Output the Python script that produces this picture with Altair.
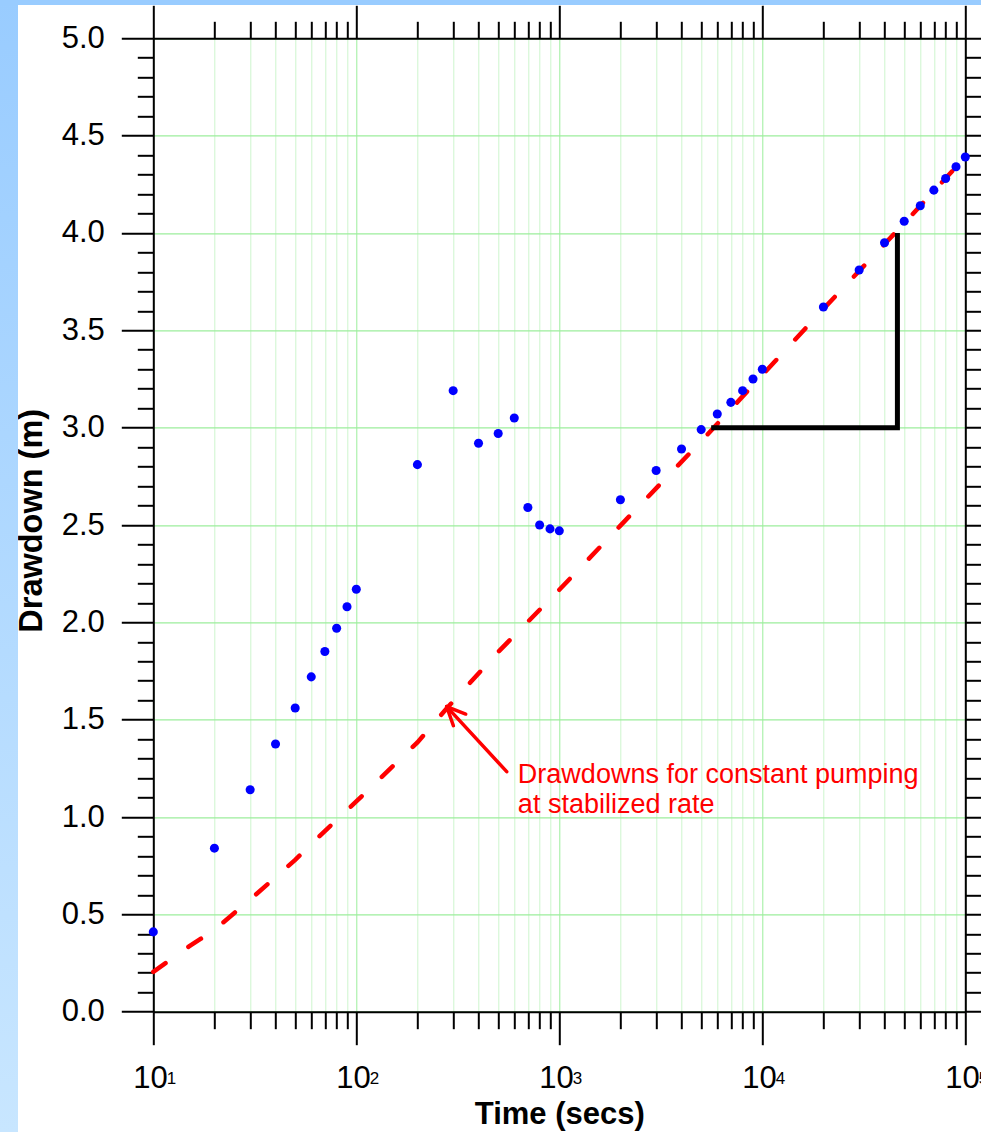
import altair as alt
import pandas as pd

# ---- data ----
obs_time = [10, 20, 30, 40, 50, 60, 70, 80, 90, 100,
            200, 300, 400, 500, 600, 700, 800, 900, 1000,
            2000, 3000, 4000, 5000, 6000, 7000, 8000, 9000, 10000,
            20000, 30000, 40000, 50000, 60000, 70000, 80000, 90000, 100000]
obs_drawdown = [0.41, 0.84, 1.14, 1.375, 1.56, 1.72, 1.85, 1.97, 2.08, 2.17,
                2.81, 3.19, 2.92, 2.97, 3.05, 2.59, 2.50, 2.48, 2.47,
                2.63, 2.78, 2.89, 2.99, 3.07, 3.13, 3.19, 3.25, 3.30,
                3.62, 3.81, 3.95, 4.06, 4.14, 4.22, 4.28, 4.34, 4.39]

theory_time = [10, 15, 20, 30, 50, 70, 100, 200, 280, 500, 1000, 2000, 5000,
               10000, 20000, 50000, 100000]
theory_drawdown = [0.205, 0.335, 0.42, 0.576, 0.78, 0.928, 1.08, 1.383, 1.56,
                   1.848, 2.167, 2.497, 2.93, 3.27, 3.61, 4.05, 4.39]

slope_time = [5600, 46300, 46300]
slope_drawdown = [3.0, 3.0, 4.0]

arrow_t1 = [550.7, 278.8, 278.8]
arrow_s1 = [1.233, 1.567, 1.567]
arrow_t2 = [278.8, 346.0, 300.8]
arrow_s2 = [1.567, 1.529, 1.469]

note_lines = ["Drawdowns for constant pumping", "at stabilized rate"]
note_time = [625]
note_drawdown = [1.177]

x_ticks = [10, 20, 30, 40, 50, 60, 70, 80, 90,
           100, 200, 300, 400, 500, 600, 700, 800, 900,
           1000, 2000, 3000, 4000, 5000, 6000, 7000, 8000, 9000,
           10000, 20000, 30000, 40000, 50000, 60000, 70000, 80000, 90000,
           100000]
decades = [10, 100, 1000, 10000, 100000]
exponents = ["1", "2", "3", "4", "5"]
y_ticks = [round(i / 10, 1) for i in range(51)]

FONT = "Liberation Sans"
W, H = 812, 973.4
PL, PT = 153.3, 38.3

obs = pd.DataFrame({"t": obs_time, "s": obs_drawdown})
theory = pd.DataFrame({"t": theory_time, "s": theory_drawdown})
slope = pd.DataFrame({"t": slope_time, "s": slope_drawdown, "o": [0, 1, 2]})
arrow = pd.DataFrame({"t": arrow_t1, "s": arrow_s1, "t2": arrow_t2, "s2": arrow_s2})
note = pd.DataFrame({"t": note_time, "s": note_drawdown, "txt": [note_lines]})
dec = pd.DataFrame({"t": decades, "e": exponents})

xs = alt.Scale(type="log", domain=[10, 100000], nice=False)
ys = alt.Scale(domain=[0, 5], nice=False, zero=False)

xmaj = "indexof([10,100,1000,10000,100000], datum.value) >= 0"
ymaj = "abs(datum.value*2 - round(datum.value*2)) < 0.001"

bottom_axis = alt.Axis(
    orient="bottom", values=x_ticks, labels=False,
    title="Time (secs)", titleFont=FONT, titleFontSize=31, titleFontWeight="bold",
    titleColor="black", titleY=111.6, titleBaseline="alphabetic",
    tickSize={"condition": {"test": xmaj, "value": 33}, "value": 17},
    tickWidth=2, tickColor="black", domainColor="black", domainWidth=2,
    grid=True, gridWidth=1,
    gridColor={"condition": {"test": xmaj, "value": "#9cee9c"}, "value": "#cdf6cd"},
)
top_axis = alt.Axis(
    orient="top", values=x_ticks, labels=False, title=None,
    tickSize={"condition": {"test": xmaj, "value": 33}, "value": 17},
    tickWidth=2, tickColor="black", domainColor="black", domainWidth=2, grid=False,
)
left_axis = alt.Axis(
    orient="left", values=y_ticks, labelOverlap=False, labelBound=False, labelFlush=False,
    labelExpr=f"({ymaj}) ? format(datum.value, '.1f') : ''",
    labelFont=FONT, labelFontSize=31, labelColor="black", labelPadding=17,
    title="Drawdown (m)", titleFont=FONT, titleFontSize=32.5, titleFontWeight="bold",
    titleColor="black", titleAngle=270, titleX=-111.6, titleY=482,
    titleAlign="center", titleBaseline="alphabetic",
    tickSize={"condition": {"test": ymaj, "value": 32}, "value": 16},
    tickWidth=2, tickColor="black", domainColor="black", domainWidth=2,
    grid=True, gridWidth=1.2,
    gridColor={"condition": {"test": ymaj, "value": "#9cee9c"}, "value": "transparent"},
)
right_axis = alt.Axis(
    orient="right", values=y_ticks, labels=False, title=None,
    tickSize={"condition": {"test": ymaj, "value": 32}, "value": 16},
    tickWidth=2, tickColor="black", domainColor="black", domainWidth=2, grid=False,
)

one = alt.Data(values=[{}])

left_strip = alt.Chart(one).mark_rect(
    color=alt.Gradient(gradient="linear", x1=0, y1=0, x2=0, y2=1,
                       stops=[alt.GradientStop(color="#99ccff", offset=0),
                              alt.GradientStop(color="#c8e6ff", offset=1)])
).encode(x=alt.value(-PL), x2=alt.value(-PL + 18), y=alt.value(-PT), y2=alt.value(1132 - PT))

top_strip = alt.Chart(one).mark_rect(color="#99ccff").encode(
    x=alt.value(-PL), x2=alt.value(981 - PL), y=alt.value(-PT), y2=alt.value(-PT + 5))

theory_line = alt.Chart(theory).mark_line(
    color="#ff0000", strokeWidth=4.5, strokeDash=[15, 28], strokeCap="round"
).encode(
    x=alt.X("t:Q", scale=xs, axis=top_axis),
    y=alt.Y("s:Q", scale=ys, axis=right_axis),
)

slope_line = alt.Chart(slope).mark_line(color="black", strokeWidth=5, strokeJoin="miter").encode(
    x=alt.X("t:Q", scale=xs, axis=None),
    y=alt.Y("s:Q", scale=ys, axis=None),
    order="o:Q",
)

points = alt.Chart(obs).mark_circle(color="#0000ff", size=82, opacity=1).encode(
    x=alt.X("t:Q", scale=xs, axis=bottom_axis),
    y=alt.Y("s:Q", scale=ys, axis=left_axis),
)

arrow_rules = alt.Chart(arrow).mark_rule(color="#ff0000", strokeWidth=3.5, strokeCap="round").encode(
    x=alt.X("t:Q", scale=xs, axis=None), x2="t2:Q",
    y=alt.Y("s:Q", scale=ys, axis=None), y2="s2:Q",
)

note_text = alt.Chart(note).mark_text(
    color="#ff0000", font=FONT, fontSize=27, align="left", baseline="alphabetic", lineHeight=30
).encode(
    x=alt.X("t:Q", scale=xs, axis=None),
    y=alt.Y("s:Q", scale=ys, axis=None),
    text="txt",
)

ten_text = alt.Chart(dec).mark_text(
    font=FONT, fontSize=31, color="black", align="right", baseline="alphabetic", dx=14.5
).encode(
    x=alt.X("t:Q", scale=xs, axis=None), y=alt.value(1088 - PT), text=alt.value("10"),
)
exp_text = alt.Chart(dec).mark_text(
    font=FONT, fontSize=17, color="black", align="left", baseline="alphabetic", dx=13.5
).encode(
    x=alt.X("t:Q", scale=xs, axis=None), y=alt.value(1084 - PT), text="e:N",
)

chart = alt.layer(
    left_strip, top_strip, theory_line, slope_line, points, arrow_rules,
    note_text, ten_text, exp_text
).resolve_axis(x="independent", y="independent").properties(
    width=W, height=H,
    autosize=alt.AutoSizeParams(type="none"),
    padding={"left": PL, "top": PT, "right": 981 - PL - W, "bottom": 1132 - PT - H},
    background="white",
).configure_view(stroke=None).configure(font=FONT)

chart.save("out.html", embed_options={"renderer": "svg", "actions": False})
